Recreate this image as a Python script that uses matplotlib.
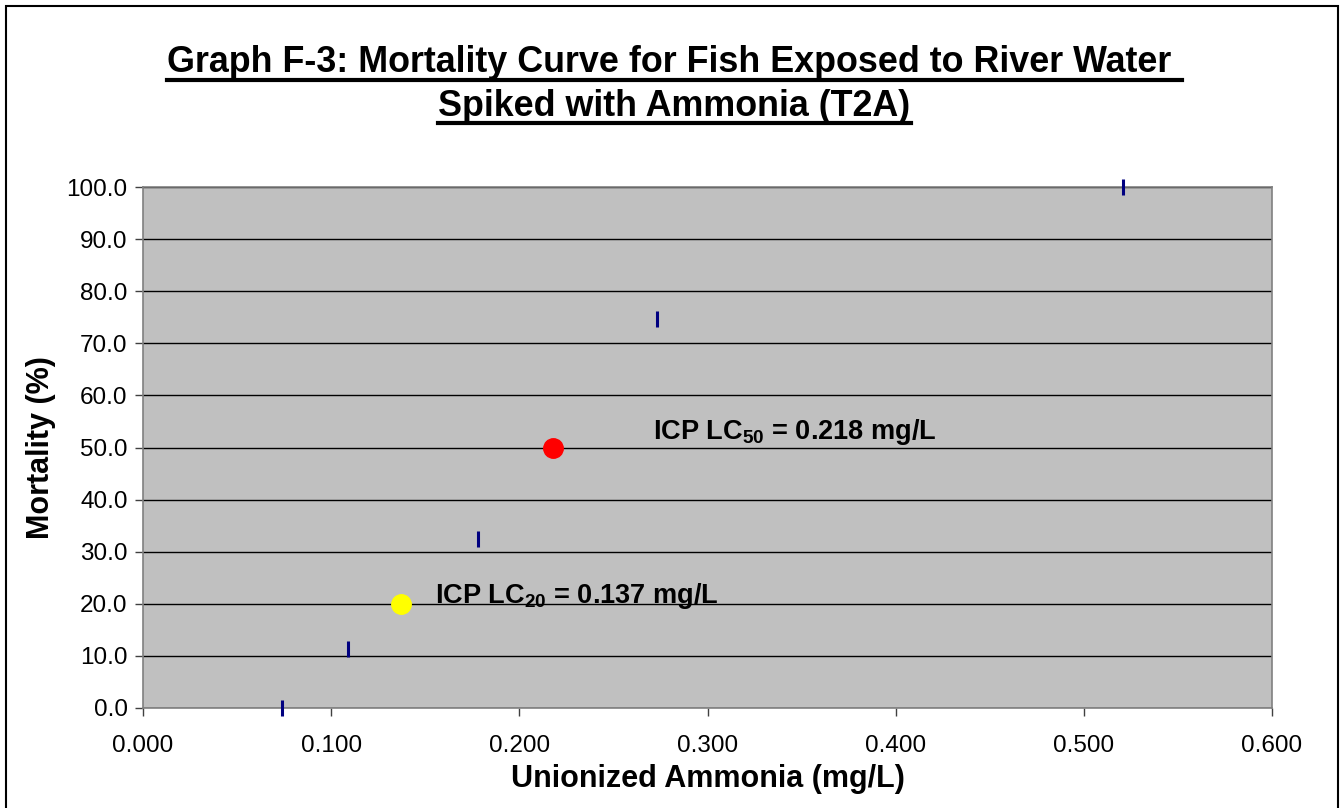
import matplotlib
matplotlib.use("Agg")
import matplotlib.pyplot as plt
from matplotlib.patches import Rectangle
from matplotlib.lines import Line2D

# data
conc = [0.074, 0.109, 0.178, 0.273, 0.521]
mortality = [0.0, 11.3, 32.4, 74.7, 100.0]
lc50 = (0.218, 50.0)
lc20 = (0.137, 20.0)
lc50_label = r"ICP LC$_{50}$ = 0.218 mg/L"
lc20_label = r"ICP LC$_{20}$ = 0.137 mg/L"
title_lines = ["Graph F-3: Mortality Curve for Fish Exposed to River Water ",
               "Spiked with Ammonia (T2A)"]
xticks = [0.0, 0.1, 0.2, 0.3, 0.4, 0.5, 0.6]
yticks = [0, 10, 20, 30, 40, 50, 60, 70, 80, 90, 100]

plt.rcParams['font.family'] = ['Liberation Sans', 'DejaVu Sans']
plt.rcParams['mathtext.fontset'] = 'custom'
plt.rcParams['mathtext.rm'] = 'Liberation Sans:bold'
plt.rcParams['mathtext.bf'] = 'Liberation Sans:bold'
plt.rcParams['mathtext.default'] = 'bf'

W, H = 1341, 808
fig = plt.figure(figsize=(W / 100, H / 100), dpi=100)
ax = fig.add_axes([143 / W, 1 - 708 / H, (1272 - 143) / W, (708 - 187) / H])
ax.set_facecolor('#C0C0C0')

# outer chart border
fig.patches.append(Rectangle((6 / W, -0.05), (1338 - 6) / W, 1.05 - 6 / H,
                             transform=fig.transFigure, fill=False,
                             edgecolor='black', linewidth=1.5))

ax.plot(conc, mortality, linestyle='none', marker='|', color='#000080',
        markersize=12, markeredgewidth=2.2, zorder=3, clip_on=False)
ax.plot(*lc50, 'o', color='#FF0000', markersize=14, zorder=3)
ax.plot(*lc20, 'o', color='#FFFF00', markersize=14, zorder=3)

ax.text(0.271, 53, lc50_label, fontsize=19.5, fontweight='bold', va='center')
ax.text(0.155, 21.5, lc20_label, fontsize=19.5, fontweight='bold', va='center')

ax.set_xlim(0, 0.6)
ax.set_ylim(0, 100)
ax.set_xticks(xticks)
ax.set_yticks(yticks)
ax.set_xticklabels(["%.3f" % v for v in xticks])
ax.set_yticklabels(["%.1f" % v for v in yticks])
ax.tick_params(labelsize=17.5, direction='out', length=6, width=1, color='#404040', pad=5)
ax.tick_params(axis='x', pad=13.5)
ax.yaxis.grid(True, color='black', linewidth=1)
ax.set_axisbelow(True)
for s in ax.spines.values():
    s.set_color('#808080')
    s.set_linewidth(1.2)

ax.set_xlabel("Unionized Ammonia (mg/L)", fontsize=22, fontweight='bold', labelpad=5)
ax.set_ylabel("Mortality (%)", fontsize=22, fontweight='bold', labelpad=7.5)

# underlined two-line title
renderer = fig.canvas.get_renderer()
for line, yc in zip(title_lines, [63, 106]):
    t = fig.text(0.503, 1 - yc / H, line, fontsize=25.8, fontweight='bold',
                 ha='center', va='center')
    bb = t.get_window_extent(renderer)
    yl = (bb.y0 + 1) / H
    fig.add_artist(Line2D([bb.x0 / W, bb.x1 / W], [yl, yl], color='black',
                          linewidth=3, transform=fig.transFigure))

fig.savefig("out.png", dpi=100)
